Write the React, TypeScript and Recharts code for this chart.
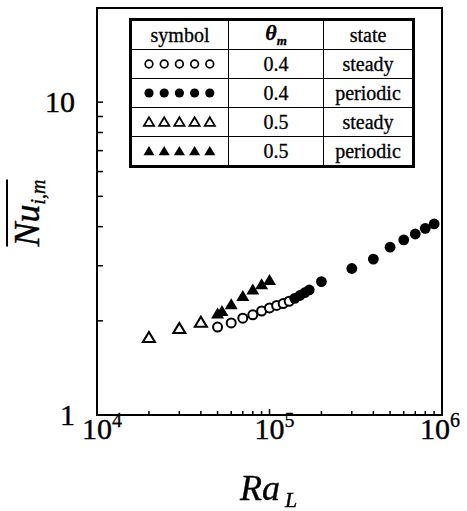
import React from 'react';
import { ScatterChart, Scatter, XAxis, YAxis, ReferenceArea } from 'recharts';

// Ra_L ticks (log axis) and Nu ticks
const raTicks = [1e4, 2e4, 3e4, 4e4, 5e4, 6e4, 7e4, 8e4, 9e4, 1e5, 2e5, 3e5, 4e5, 5e5, 6e5, 7e5, 8e5, 9e5, 1e6];
const nuTicks = [1, 2, 3, 4, 5, 6, 7, 8, 9, 10];

// theta_m = 0.4, steady
const steady04Ra = [5e4, 6e4, 7e4, 8e4, 9e4, 1e5, 1.1e5, 1.2e5, 1.3e5];
const steady04Nu = [1.91, 1.97, 2.04, 2.09, 2.15, 2.2, 2.24, 2.27, 2.31];
// theta_m = 0.4, periodic
const periodic04Ra = [1.4e5, 1.5e5, 1.6e5, 1.7e5, 2e5, 3e5, 4e5, 5e5, 6e5, 7e5, 8e5, 9e5];
const periodic04Nu = [2.36, 2.41, 2.46, 2.51, 2.67, 2.94, 3.15, 3.44, 3.63, 3.79, 3.95, 4.08];
// theta_m = 0.5, steady
const steady05Ra = [2e4, 3e4, 4e4];
const steady05Nu = [1.77, 1.89, 1.98];
// theta_m = 0.5, periodic
const periodic05Ra = [5e4, 5.3e4, 6e4, 7e4, 8e4, 9e4, 1e5];
const periodic05Nu = [2.11, 2.15, 2.26, 2.4, 2.52, 2.62, 2.7];

const legendRows = [
  { shape: 'openCircle', theta: '0.4', state: 'steady' },
  { shape: 'filledCircle', theta: '0.4', state: 'periodic' },
  { shape: 'openTriangle', theta: '0.5', state: 'steady' },
  { shape: 'filledTriangle', theta: '0.5', state: 'periodic' },
];

const toPoints = (xs: number[], ys: number[]) => xs.map((x, i) => ({ x, y: ys[i] }));

const serif = '"Liberation Serif", "DejaVu Serif", serif';

const OpenCircle = (p: any) => <circle cx={p.cx} cy={p.cy} r={4.5} fill="#fff" stroke="#000" strokeWidth={2} />;
const FilledCircle = (p: any) => <circle cx={p.cx} cy={p.cy} r={5.4} fill="#000" />;
const OpenTriangle = (p: any) => (
  <polygon
    points={`${p.cx},${p.cy - 5.5} ${p.cx - 6},${p.cy + 4.5} ${p.cx + 6},${p.cy + 4.5}`}
    fill="#fff"
    stroke="#000"
    strokeWidth={2.1}
  />
);
const FilledTriangle = (p: any) => (
  <polygon points={`${p.cx},${p.cy - 6} ${p.cx - 6.5},${p.cy + 5} ${p.cx + 6.5},${p.cy + 5}`} fill="#000" />
);

const shapes: Record<string, (p: any) => React.ReactElement> = {
  openCircle: OpenCircle,
  filledCircle: FilledCircle,
  openTriangle: OpenTriangle,
  filledTriangle: FilledTriangle,
};

function RaTick(props: any) {
  const { x, y, payload } = props;
  const v = payload.value;
  const exp = Math.round(Math.log10(v));
  const major = Math.abs(v - Math.pow(10, exp)) < 1;
  const dx = exp === 6 ? -7 : 0;
  return (
    <g>
      <line x1={x} x2={x} y1={y} y2={y - (major ? 6 : 4)} stroke="#000" strokeWidth={1.5} />
      {major && (
        <text
          x={x + dx}
          y={y + 24}
          textAnchor="middle"
          fontFamily={serif}
          fontSize={30}
          fill="#000"
          stroke="#000"
          strokeWidth={0.4}
        >
          10
        </text>
      )}
      {major && (
        <text x={x + dx + 15} y={y + 12} fontFamily={serif} fontSize={20} fill="#000" stroke="#000" strokeWidth={0.3}>
          {exp}
        </text>
      )}
    </g>
  );
}

function NuTick(props: any) {
  const { x, y, payload } = props;
  const v = payload.value;
  const major = v === 1 || v === 10;
  return (
    <g>
      <line x1={x} x2={x + 6} y1={y} y2={y} stroke="#000" strokeWidth={1.5} />
      {major && (
        <text
          x={x - 22}
          y={y + 10}
          textAnchor="end"
          fontFamily={serif}
          fontSize={30}
          fill="#000"
          stroke="#000"
          strokeWidth={0.4}
        >
          {v}
        </text>
      )}
    </g>
  );
}

function LegendSymbols({ shape }: { shape: string }) {
  const S = shapes[shape];
  return (
    <svg width={78} height={14} style={{ display: 'block', margin: '0 auto' }}>
      {[0, 1, 2, 3, 4].map((i) => {
        const cx = 8 + i * 15.2;
        return (
          <g key={i} transform={`translate(${cx},7) scale(0.85) translate(${-cx},-7)`}>
            {S({ cx, cy: 7 })}
          </g>
        );
      })}
    </svg>
  );
}

const cell: React.CSSProperties = {
  border: '1.5px solid #000',
  padding: 0,
  textAlign: 'center',
  verticalAlign: 'middle',
  height: 28,
};

export default function App() {
  return (
    <div style={{ position: 'fixed', left: 0, top: 0, width: 467, height: 511, background: '#fff' }}>
      <ScatterChart width={467} height={511} margin={{ top: 8, right: 25, left: 0, bottom: 0 }}>
        <XAxis
          type="number"
          dataKey="x"
          scale="log"
          domain={[1e4, 1e6]}
          ticks={raTicks}
          interval={0}
          allowDataOverflow
          height={96}
          tickSize={0}
          tickMargin={0}
          tickLine={false}
          axisLine={{ stroke: '#000', strokeWidth: 2 }}
          tick={RaTick}
        />
        <YAxis
          type="number"
          dataKey="y"
          scale="log"
          domain={[1, 20]}
          ticks={nuTicks}
          interval={0}
          allowDataOverflow
          width={97}
          tickSize={0}
          tickMargin={0}
          tickLine={false}
          axisLine={{ stroke: '#000', strokeWidth: 2 }}
          tick={NuTick}
        />
        <ReferenceArea x1={1e4} x2={1e6} y1={1} y2={20} fill="none" stroke="#000" strokeWidth={2} />
        <Scatter data={toPoints(steady05Ra, steady05Nu)} shape={OpenTriangle} isAnimationActive={false} />
        <Scatter data={toPoints(steady04Ra, steady04Nu)} shape={OpenCircle} isAnimationActive={false} />
        <Scatter data={toPoints(periodic05Ra, periodic05Nu)} shape={FilledTriangle} isAnimationActive={false} />
        <Scatter data={toPoints(periodic04Ra, periodic04Nu)} shape={FilledCircle} isAnimationActive={false} />
      </ScatterChart>

      <table
        style={{
          position: 'absolute',
          left: 129,
          top: 18,
          width: 286,
          height: 146,
          borderCollapse: 'collapse',
          border: '3px solid #000',
          background: '#fff',
          fontFamily: serif,
          fontSize: 20,
          color: '#000',
          lineHeight: 1,
          WebkitTextStroke: '0.3px #000',
        }}
      >
        <tbody>
          <tr>
            <td style={{ ...cell, width: 96 }}>symbol</td>
            <td style={{ ...cell, width: 94, fontStyle: 'italic', fontWeight: 'bold', fontSize: 22 }}>
              θ<sub style={{ fontSize: 13 }}>m</sub>
            </td>
            <td style={cell}>state</td>
          </tr>
          {legendRows.map((r) => (
            <tr key={r.shape}>
              <td style={cell}>
                <LegendSymbols shape={r.shape} />
              </td>
              <td style={cell}>{r.theta}</td>
              <td style={cell}>{r.state}</td>
            </tr>
          ))}
        </tbody>
      </table>

      <div
        style={{
          position: 'absolute',
          left: 27,
          top: 213,
          transform: 'translate(-50%, -50%) rotate(-90deg)',
          fontFamily: serif,
          fontStyle: 'italic',
          fontSize: 36,
          lineHeight: 1,
          whiteSpace: 'nowrap',
          WebkitTextStroke: '0.4px #000',
        }}
      >
        <span style={{ display: 'inline-block', borderTop: '2px solid #000', paddingTop: 1 }}>
          Nu<span style={{ fontSize: 20, verticalAlign: '-0.3em' }}>i,m</span>
        </span>
      </div>

      <div
        style={{
          position: 'absolute',
          left: 240,
          top: 470,
          fontFamily: serif,
          fontStyle: 'italic',
          fontSize: 36,
          lineHeight: 1,
          whiteSpace: 'nowrap',
          WebkitTextStroke: '0.4px #000',
        }}
      >
        Ra<span style={{ fontSize: 22, marginLeft: 5, verticalAlign: '-0.3em' }}>L</span>
      </div>
    </div>
  );
}
